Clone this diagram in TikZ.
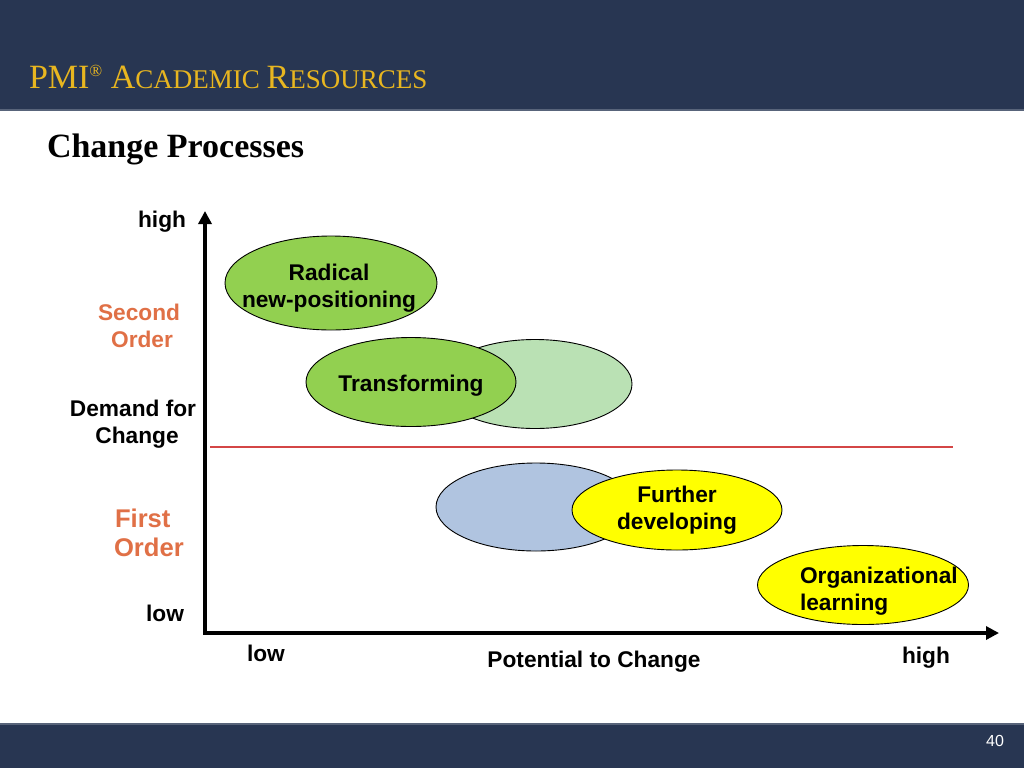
\documentclass[tikz,border=0pt]{standalone}
\usepackage{fontspec}
\setmainfont{Liberation Serif}
\setsansfont{Liberation Sans}
\usetikzlibrary{shapes.geometric,arrows.meta}
\definecolor{navy}{RGB}{40,54,82}
\definecolor{navyline}{RGB}{88,100,122}
\definecolor{gold}{RGB}{232,182,32}
\definecolor{grn}{RGB}{146,208,80}
\definecolor{lgrn}{RGB}{186,225,180}
\definecolor{lblue}{RGB}{176,196,224}
\definecolor{ylw}{RGB}{255,255,0}
\definecolor{orng}{RGB}{224,112,70}
\definecolor{redline}{RGB}{212,70,70}
\newcommand{\lbfont}{\sffamily\bfseries\fontsize{22.7}{27}\selectfont}
\newcommand{\bigfont}{\sffamily\bfseries\fontsize{25.6}{30}\selectfont}
\begin{document}
\begin{tikzpicture}[x=1pt,y=-1pt,
  every node/.style={inner sep=0pt, outer sep=0pt},
  lab/.style={font=\lbfont, text=black},
  olab/.style={font=\lbfont, text=orng},
  ell/.style={ellipse, draw=black, line width=0.9pt},
  axis/.style={line width=4pt, line join=miter, {Triangle[length=13pt,width=13pt]}-{Triangle[length=13pt,width=13pt]}}
]
\useasboundingbox (0,0) rectangle (1024,768);
% header and footer bands
\fill[navy] (0,0) rectangle (1024,110);
\draw[navyline, line width=1.5pt] (0,110) -- (1024,110);
\fill[navy] (0,724) rectangle (1024,768);
\draw[navyline, line width=1.5pt] (0,724) -- (1024,724);
\node[anchor=base west, text=gold] (title) at (29,88)
  {\fontsize{34}{34}\selectfont PMI\raisebox{11pt}{\fontsize{17}{17}\selectfont ®}\ A\fontsize{27}{27}\selectfont CADEMIC\ \fontsize{34}{34}\selectfont R\fontsize{27}{27}\selectfont ESOURCES};
\node[anchor=base west, font=\bfseries\fontsize{34}{34}\selectfont] (heading) at (47,157) {Change Processes};
\node[anchor=base east, text=white, font=\sffamily\fontsize{16}{16}\selectfont] (page) at (1004,746) {40};

% ellipses
\node[ell, fill=grn, minimum width=212pt, minimum height=94pt] (radical) at (331,283) {};
\node[ell, fill=lgrn, minimum width=194pt, minimum height=89pt] (ghost2) at (535,384) {};
\node[ell, fill=grn, minimum width=210pt, minimum height=89pt] (transf) at (411,382) {};
\node[ell, fill=lblue, minimum width=200pt, minimum height=88pt] (ghost1) at (536,507) {};
\node[ell, fill=ylw, minimum width=210pt, minimum height=80pt] (further) at (677,510) {};
\node[ell, fill=ylw, minimum width=211pt, minimum height=79pt] (orglearn) at (863,585) {};

% ellipse texts
\node[lab, anchor=base] (t1a) at (329,280) {Radical};
\node[lab, anchor=base] (t1b) at (329,307) {new-positioning};
\node[lab, anchor=base] (t2) at (411,391) {Transforming};
\node[lab, anchor=base] (t3a) at (677,502) {Further};
\node[lab, anchor=base] (t3b) at (677,529) {developing};
\node[lab, anchor=base west] (t4a) at (800,583) {Organizational};
\node[lab, anchor=base west] (t4b) at (800,610) {learning};

% threshold line
\coordinate (rl1) at (210,447);
\coordinate (rl2) at (953,447);
\draw[redline, line width=1.3pt] (rl1) -- (rl2);

% axes
\coordinate (O) at (205,633);
\coordinate (Ytop) at (205,211);
\coordinate (Xend) at (999,633);
\draw[axis] (Ytop) -- (O) -- (Xend);

% axis labels
\node[lab, anchor=base east] (yhigh) at (186,227) {high};
\node[olab, anchor=base] (sec1) at (139,320) {Second};
\node[olab, anchor=base] (sec2) at (142,347) {Order};
\node[lab, anchor=base] (dem1) at (133,416) {Demand for};
\node[lab, anchor=base] (dem2) at (137,443) {Change};
\node[font=\bigfont, text=orng, anchor=base west] (fir1) at (115,527) {First};
\node[font=\bigfont, text=orng, anchor=base west] (fir2) at (114,556) {Order};
\node[lab, anchor=base east] (ylow) at (184,621) {low};
\node[lab, anchor=base west] (xlow) at (247,661) {low};
\node[lab, anchor=base] (xtitle) at (594,667) {Potential to Change};
\node[lab, anchor=base west] (xhigh) at (902,663) {high};
\end{tikzpicture}
\end{document}
